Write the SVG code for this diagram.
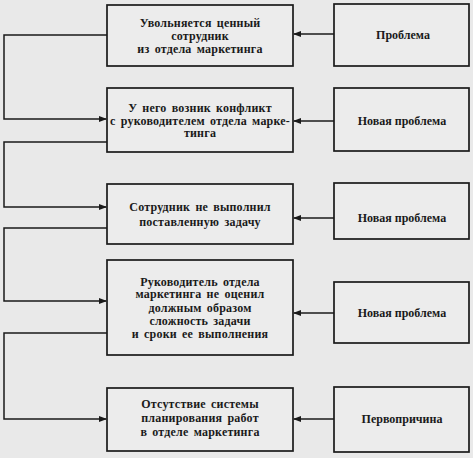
<svg xmlns="http://www.w3.org/2000/svg" width="473" height="458" viewBox="0 0 473 458">
<style>
.bg{fill:#e9e9e9}
.box{fill:#ececec;stroke:#1a1a1a;stroke-width:1.7}
.t{font-family:"Liberation Serif","Times New Roman",serif;font-weight:bold;font-size:12px;letter-spacing:0.2px;word-spacing:2px;fill:#1a1a1a;text-anchor:middle}
.r{font-family:"Liberation Serif","Times New Roman",serif;font-weight:bold;font-size:12px;fill:#1a1a1a;text-anchor:middle}
.c{fill:none;stroke:#1a1a1a;stroke-width:1.5}
</style>
<defs>
<marker id="ah" markerWidth="8" markerHeight="6" refX="7" refY="3" orient="auto" markerUnits="userSpaceOnUse">
<path d="M0,0 L8,3 L0,6 z" fill="#1a1a1a"/>
</marker>
</defs>
<rect class="bg" x="0" y="0" width="473" height="458"/>
<g id="n1"><rect class="box" x="107" y="5" width="186" height="61"/>
<text class="t" x="200" y="27">Увольняется ценный</text>
<text class="t" x="200" y="39.5">сотрудник</text>
<text class="t" x="200" y="52.5">из отдела маркетинга</text></g>
<g id="p1"><rect class="box" x="334" y="4" width="135" height="62"/>
<text class="r" x="403" y="38.5">Проблема</text></g>
<g id="n2"><rect class="box" x="107" y="88" width="186" height="64"/>
<text class="t" x="200" y="112">У него возник конфликт</text>
<text class="t" x="200" y="124.5">с руководителем отдела марке-</text>
<text class="t" x="200" y="137">тинга</text></g>
<g id="p2"><rect class="box" x="334" y="88" width="135" height="63"/>
<text class="r" x="402" y="125">Новая проблема</text></g>
<g id="n3"><rect class="box" x="107" y="184" width="186" height="60"/>
<text class="t" x="200" y="210.5">Сотрудник не выполнил</text>
<text class="t" x="200" y="225.5">поставленную задачу</text></g>
<g id="p3"><rect class="box" x="334" y="183" width="135" height="56"/>
<text class="r" x="402" y="222">Новая проблема</text></g>
<g id="n4"><rect class="box" x="107" y="260" width="186" height="95"/>
<text class="t" x="200" y="285.5">Руководитель отдела</text>
<text class="t" x="200" y="298">маркетинга не оценил</text>
<text class="t" x="200" y="311.5">должным образом</text>
<text class="t" x="200" y="324.5">сложность задачи</text>
<text class="t" x="200" y="338">и сроки ее выполнения</text></g>
<g id="p4"><rect class="box" x="334" y="282" width="135" height="61"/>
<text class="r" x="402" y="316.5">Новая проблема</text></g>
<g id="n5"><rect class="box" x="107" y="388" width="186" height="63"/>
<text class="t" x="200" y="407.5">Отсутствие системы</text>
<text class="t" x="200" y="422">планирования работ</text>
<text class="t" x="200" y="436">в отделе маркетинга</text></g>
<g id="p5"><rect class="box" x="334" y="387" width="135" height="65"/>
<text class="r" x="402" y="422.5">Первопричина</text></g>
<g id="connectors">
<line class="c" x1="334" y1="34" x2="294" y2="34" marker-end="url(#ah)"/>
<line class="c" x1="334" y1="121" x2="294" y2="121" marker-end="url(#ah)"/>
<line class="c" x1="334" y1="218" x2="294" y2="218" marker-end="url(#ah)"/>
<line class="c" x1="334" y1="313" x2="294" y2="313" marker-end="url(#ah)"/>
<line class="c" x1="334" y1="419" x2="294" y2="419" marker-end="url(#ah)"/>
<polyline class="c" points="107,35 4,35 4,119 106,119" marker-end="url(#ah)"/>
<polyline class="c" points="107,142 4,142 4,207 106,207" marker-end="url(#ah)"/>
<polyline class="c" points="107,228 4,228 4,301 106,301" marker-end="url(#ah)"/>
<polyline class="c" points="107,333 4,333 4,419 106,419" marker-end="url(#ah)"/>
</g>
</svg>
